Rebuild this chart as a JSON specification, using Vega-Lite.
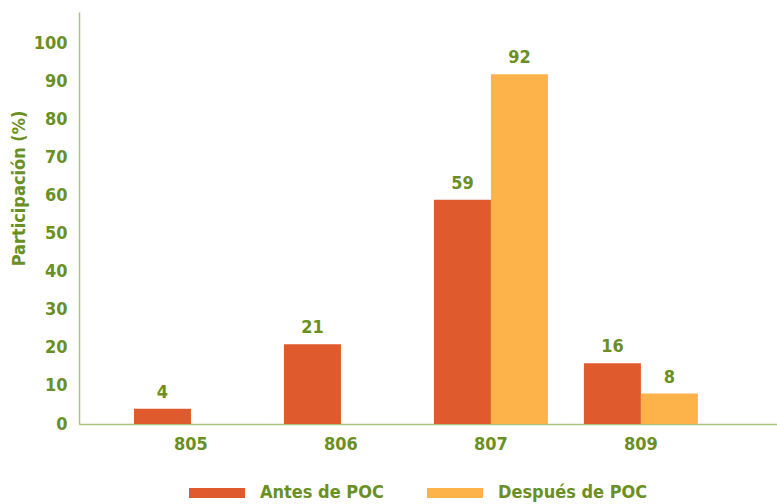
{
  "$schema": "https://vega.github.io/schema/vega-lite/v6.json",
  "autosize": {"type": "none"},
  "padding": {"left": 79, "top": 12, "right": 0, "bottom": 80},
  "width": 698,
  "height": 412,
  "config": {
    "view": {"stroke": null},
    "font": "DejaVu Sans Condensed, Roboto, sans-serif"
  },
  "data": {
    "values": [
      {"sede": "805", "grupo": "Antes de POC", "valor": 4},
      {"sede": "806", "grupo": "Antes de POC", "valor": 21},
      {"sede": "807", "grupo": "Antes de POC", "valor": 59},
      {"sede": "807", "grupo": "Después de POC", "valor": 92},
      {"sede": "809", "grupo": "Antes de POC", "valor": 16},
      {"sede": "809", "grupo": "Después de POC", "valor": 8}
    ]
  },
  "encoding": {
    "x": {
      "field": "sede", "type": "nominal",
      "scale": {"paddingInner": 0.24, "paddingOuter": 0.447, "align": 0.41},
      "axis": {
        "title": null, "labelAngle": 0, "ticks": false,
        "domainColor": "#a9c47f", "domainWidth": 1.5,
        "labelColor": "#6a8f22", "labelFont": "DejaVu Sans Condensed, Roboto, sans-serif",
        "labelFontWeight": "bold", "labelFontSize": 18, "labelPadding": 11
      }
    },
    "xOffset": {"field": "grupo", "type": "nominal", "sort": ["Antes de POC", "Después de POC"]},
    "y": {
      "field": "valor", "type": "quantitative",
      "scale": {"domain": [0, 108.4], "nice": false},
      "axis": {
        "title": "Participación (%)", "values": [0, 10, 20, 30, 40, 50, 60, 70, 80, 90, 100],
        "grid": false, "ticks": false,
        "domainColor": "#a9c47f", "domainWidth": 1.5,
        "labelColor": "#6a8f22", "labelFont": "DejaVu Sans Condensed, Roboto, sans-serif",
        "labelFontWeight": "bold", "labelFontSize": 18, "labelPadding": 12,
        "titleColor": "#6a8f22", "titleFont": "DejaVu Sans Condensed, Roboto, sans-serif",
        "titleFontWeight": "bold", "titleFontSize": 18, "titleX": -51, "titleY": 176
      }
    }
  },
  "layer": [
    {
      "mark": {"type": "bar"},
      "encoding": {
        "color": {
          "field": "grupo", "type": "nominal",
          "scale": {"domain": ["Antes de POC", "Después de POC"], "range": ["#df5a2c", "#feb34a"]},
          "legend": {
            "title": null, "orient": "none", "direction": "horizontal",
            "legendX": 110, "legendY": 453, "padding": 0,
            "symbolType": "M-1,-0.18L1,-0.18L1,0.18L-1,0.18Z", "symbolSize": 3136,
            "symbolStrokeWidth": 0, "symbolOpacity": 1,
            "labelColor": "#6a8f22", "labelFont": "DejaVu Sans Condensed, Roboto, sans-serif",
            "labelFontWeight": "bold", "labelFontSize": 18, "labelOffset": 15,
            "columnPadding": 43, "labelLimit": 300
          }
        }
      }
    },
    {
      "mark": {"type": "text", "dy": -16, "fontWeight": "bold", "fontSize": 18, "color": "#6a8f22", "font": "DejaVu Sans Condensed, Roboto, sans-serif"},
      "encoding": {"text": {"field": "valor", "type": "quantitative"}}
    }
  ]
}
